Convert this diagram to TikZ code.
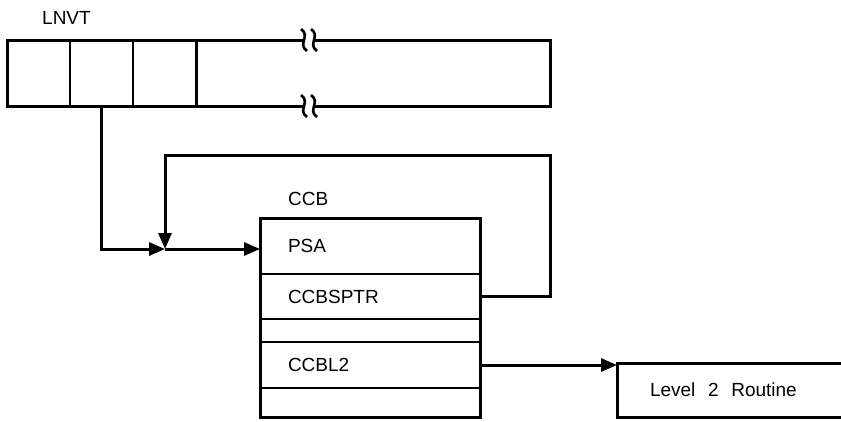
\documentclass[tikz,border=0pt]{standalone}
\usepackage{fontspec}
\setmainfont{Liberation Sans}
\usetikzlibrary{arrows.meta,positioning}
\tikzset{>={Triangle[length=16pt,width=13pt]},
  thickline/.style={line width=3pt},
  cell/.style={draw,line width=2pt,minimum width=63pt,minimum height=66pt,
    anchor=north west,inner sep=0pt,outer sep=0pt},
  row/.style={draw,line width=1.6pt,minimum width=220pt,minimum height=#1,
    text width=164pt,inner xsep=28pt,inner ysep=0pt,outer sep=0pt,align=left},
  lbl/.style={anchor=west,inner sep=0pt}}

\begin{document}
\begin{tikzpicture}[x=1pt,y=-1pt,
  every node/.style={font=\fontsize{19}{22}\selectfont}]

  \useasboundingbox (0,0) rectangle (841,421);

  % LNVT table
  \node[lbl] (lnvt) at (42,18) {LNVT};
  \node[cell] (c1) at (7,40) {};
  \node[cell,right=0pt of c1] (c2) {};
  \node[cell,right=0pt of c2] (c3) {};
  \draw [thickline] (c1.north west) rectangle (c3.south east);
  \draw [thickline] (c3.north east) -- (304,40);
  \draw [thickline] (314,40) -- (550,40) -- (550,106) -- (314,106);
  \draw [thickline] (304,106) -- (c3.south east);
  \foreach \y in {40,106}
    \foreach \x in {304,314}
      \draw [line width=2.6pt] (\x-3,\y-11) .. controls (\x+7,\y-4) and (\x-7,\y+4) .. (\x+3,\y+11);

  % CCB
  \node[lbl] (ccb) at (288,199) {CCB};
  \node[row=56pt,anchor=north west] (psa) at (260,218) {PSA};
  \node[row=45pt,below=0pt of psa] (sptr) {CCBSPTR};
  \node[row=23pt,below=0pt of sptr] (gap1) {};
  \node[row=46pt,below=0pt of gap1] (l2) {CCBL2};
  \node[row=29pt,below=0pt of l2] (gap2) {};
  \draw [thickline] (psa.north west) rectangle (gap2.south east);

  % Level 2 routine
  \node[anchor=north west,minimum width=224pt,minimum height=54pt,outer sep=0pt,
    text width=158pt,inner xsep=33pt,align=left] (lvl) at (617,363)
    {Level\ \ 2\ \ Routine};
  \draw [thickline] (lvl.north east) -- (lvl.north west) -- (lvl.south west) -- (lvl.south east);

  % pointers
  \coordinate (join) at (165,249);
  \coordinate (loop) at (550,155);
  \draw [thickline,->] (c2.south) |- (join);
  \draw [thickline,->] (sptr.east) -| (loop) -| (join);
  \draw [thickline,->] (join) -- (join -| psa.west);
  \draw [thickline,->] (l2.east) -- (l2.east -| lvl.west);

\end{tikzpicture}
\end{document}
